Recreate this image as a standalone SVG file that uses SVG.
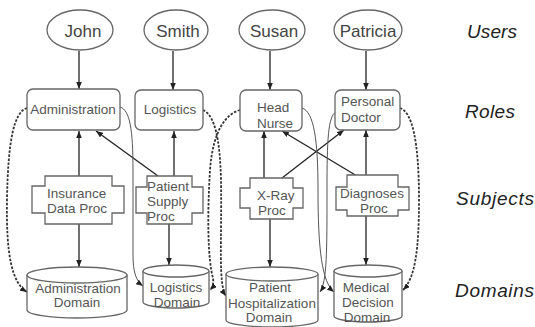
<svg xmlns="http://www.w3.org/2000/svg" width="535" height="327" viewBox="0 0 535 327">
<style>
.sh{fill:#fff;stroke:#666;stroke-width:1.3}
.nt{font-family:"Liberation Sans",Arial,sans-serif;font-size:13.5px;fill:#555}
.m{text-anchor:middle}
.ut{font-family:"Liberation Sans",Arial,sans-serif;font-size:17px;fill:#444;text-anchor:middle}
.lt{font-family:"Liberation Sans",Arial,sans-serif;font-size:19px;font-style:italic;fill:#222}
.ar{fill:none;stroke:#222;stroke-width:1.3;marker-end:url(#ah)}
.cv{fill:none;stroke:#555;stroke-width:1;marker-end:url(#ah)}
.dt{fill:none;stroke:#333;stroke-width:1.8;stroke-dasharray:2.5 1.5;marker-end:url(#ah)}
</style>
<defs>
<marker id="ah" viewBox="0 0 10 8" refX="10" refY="4" markerWidth="7" markerHeight="5.6" markerUnits="userSpaceOnUse" orient="auto"><path d="M0,0 L10,4 L0,8 z" fill="#222"/></marker>
</defs>
<rect width="535" height="327" fill="#fff"/>

<g id="connectors">
<line class="ar" x1="79" y1="51" x2="79" y2="89"/>
<line class="ar" x1="173" y1="51" x2="173" y2="90"/>
<line class="ar" x1="270" y1="51" x2="270" y2="90"/>
<line class="ar" x1="366" y1="51" x2="366" y2="90"/>
<line class="ar" x1="79" y1="176" x2="79" y2="131"/>
<line class="ar" x1="174" y1="176" x2="174" y2="131"/>
<line class="ar" x1="158" y1="176" x2="96" y2="131"/>
<line class="ar" x1="264" y1="178" x2="264" y2="131"/>
<line class="ar" x1="282" y1="178" x2="344" y2="130"/>
<line class="ar" x1="357" y1="176" x2="282" y2="131"/>
<line class="ar" x1="366" y1="175" x2="366" y2="130"/>
<line class="ar" x1="79" y1="224" x2="79" y2="267"/>
<line class="ar" x1="169" y1="224" x2="169" y2="265"/>
<line class="ar" x1="270" y1="219" x2="270" y2="267"/>
<line class="ar" x1="366" y1="216" x2="366" y2="265"/>
<path class="cv" d="M120,107 C130,110 133,130 133,170 L133,255 C133,272 136,281 143,286"/>
<path class="cv" d="M302,108 C314,112 318,140 318,190 C318,250 322,282 334,292"/>
<path class="cv" d="M336,112 C328,116 327,140 327,190 C327,250 327,282 320,292"/>
<path class="dt" d="M27,108 C14,112 8,140 7,200 C6,255 12,283 27,292"/>
<path class="dt" d="M240,110 C226,114 213,130 210,170 C207,220 208,260 213,278 C214,284 212,288 210,290"/>
<path class="dt" d="M203,110 C215,115 220,140 221,180 C222,240 218,285 226,296"/>
<path class="dt" d="M400,108 C412,112 419,140 419,200 C419,250 415,278 403,290"/>
</g>

<g id="john"><ellipse class="sh" cx="80" cy="30" rx="33" ry="20"/><text class="ut" x="83" y="37">John</text></g>
<g id="smith"><ellipse class="sh" cx="176" cy="30" rx="32" ry="20"/><text class="ut" x="178" y="37">Smith</text></g>
<g id="susan"><ellipse class="sh" cx="272" cy="30" rx="33" ry="20"/><text class="ut" x="274" y="37">Susan</text></g>
<g id="patricia"><ellipse class="sh" cx="368" cy="30" rx="34" ry="20"/><text class="ut" x="368" y="37">Patricia</text></g>

<g id="administration"><rect class="sh" x="27" y="89" width="93" height="41" rx="6"/><text class="nt m" x="73" y="114">Administration</text></g>
<g id="logistics"><rect class="sh" x="135" y="90" width="68" height="40" rx="6"/><text class="nt m" x="170" y="114">Logistics</text></g>
<g id="head-nurse"><rect class="sh" x="240" y="90" width="62" height="41" rx="6"/><text class="nt" x="257" y="112">Head</text><text class="nt" x="257" y="128">Nurse</text></g>
<g id="personal-doctor"><rect class="sh" x="335" y="90" width="65" height="40" rx="6"/><text class="nt" x="341" y="106">Personal</text><text class="nt" x="341" y="122">Doctor</text></g>

<g id="insurance-data-proc"><path class="sh" d="M45,176 H112 V186 H124 V213 H112 V224 H45 V213 H32 V186 H45 Z"/><text class="nt" x="47" y="198">Insurance</text><text class="nt" x="47" y="213">Data Proc</text></g>
<g id="patient-supply-proc"><path class="sh" d="M147,176 H192 V187 H203 V213 H192 V224 H147 V213 H136 V187 H147 Z"/><text class="nt" x="147" y="191">Patient</text><text class="nt" x="147" y="206">Supply</text><text class="nt" x="147" y="221">Proc</text></g>
<g id="x-ray-proc"><path class="sh" d="M250,178 H293 V188 H303 V208 H293 V219 H250 V208 H240 V188 H250 Z"/><text class="nt" x="257" y="200">X-Ray</text><text class="nt" x="258" y="215">Proc</text></g>
<g id="diagnoses-proc"><path class="sh" d="M347,175 H398 V187 H409 V210 H398 V216 H347 V210 H336 V187 H347 Z"/><text class="nt m" x="372" y="198">Diagnoses</text><text class="nt m" x="374" y="213">Proc</text></g>

<g id="administration-domain"><path class="sh" d="M27,275 V310 A50,8 0 0 0 127,310 V275"/><ellipse class="sh" cx="77" cy="275" rx="50" ry="8"/><text class="nt m" x="78" y="293">Administration</text><text class="nt m" x="77" y="307">Domain</text></g>
<g id="logistics-domain"><path class="sh" d="M143,271 V302 A33,6 0 0 0 209,302 V271"/><ellipse class="sh" cx="176" cy="271" rx="33" ry="6"/><text class="nt m" x="176" y="292">Logistics</text><text class="nt m" x="177" y="307">Domain</text></g>
<g id="patient-hospitalization-domain"><path class="sh" d="M226,274 V320 A46,7 0 0 0 318,320 V274"/><ellipse class="sh" cx="272" cy="274" rx="46" ry="7"/><text class="nt m" x="270" y="292">Patient</text><text class="nt m" x="272" y="308">Hospitalization</text><text class="nt m" x="269" y="322">Domain</text></g>
<g id="medical-decision-domain"><path class="sh" d="M334,271 V316 A34,6 0 0 0 402,316 V271"/><ellipse class="sh" cx="368" cy="271" rx="34" ry="6"/><text class="nt m" x="366" y="292">Medical</text><text class="nt m" x="368" y="307">Decision</text><text class="nt m" x="367" y="322">Domain</text></g>

<g id="layer-labels">
<text class="lt" x="467" y="38" textLength="50">Users</text>
<text class="lt" x="465" y="118" textLength="50">Roles</text>
<text class="lt" x="456" y="205" textLength="78">Subjects</text>
<text class="lt" x="455" y="297" textLength="79">Domains</text>
</g>
</svg>
